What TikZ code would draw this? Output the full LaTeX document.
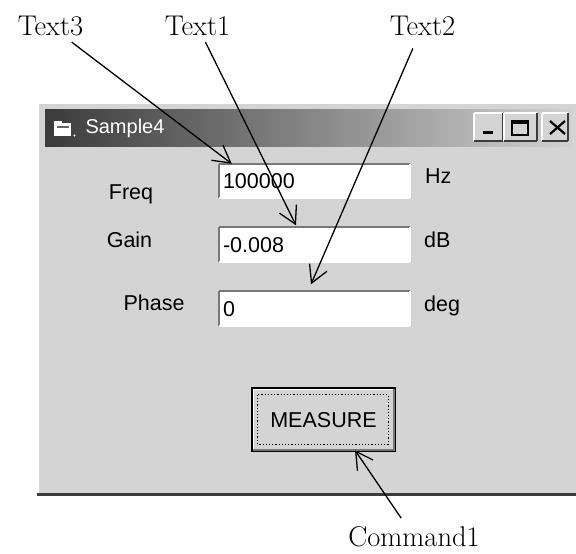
\documentclass[tikz,border=0pt]{standalone}
\usepackage{fontspec}
\usepackage{tikz}
\usetikzlibrary{arrows.meta}
\usetikzlibrary{calc}
\newfontfamily\uifont{Liberation Sans}
\definecolor{winface}{RGB}{212,212,212}
\definecolor{winshade}{RGB}{120,120,120}
\definecolor{windark}{RGB}{60,60,60}
\pgfdeclarelayer{nodelayer}
\pgfdeclarelayer{edgelayer}
\pgfsetlayers{main,nodelayer,edgelayer}
\tikzstyle{callout}=[inner sep=6pt, font=\fontsize{28.5}{34}\selectfont]
\tikzstyle{ui}=[inner sep=0pt, text height=15pt, text depth=0pt, font=\uifont\fontsize{21.5}{26}\selectfont]
\tikzset{bevel/.style 2 args={append after command={
(\tikzlastnode.south west) edge[draw=#1, line width=2pt] (\tikzlastnode.north west)
(\tikzlastnode.north west) edge[draw=#1, line width=2pt] (\tikzlastnode.north east)
(\tikzlastnode.north east) edge[draw=#2, line width=2pt] (\tikzlastnode.south east)
(\tikzlastnode.south east) edge[draw=#2, line width=2pt] (\tikzlastnode.south west) } } }
\tikzset{field/.style={ui, fill=white, text width=183pt, inner xsep=4pt, minimum height=34pt,
align=left, bevel={winshade}{white}}}
\tikzset{capbtn/.style={fill=winface, minimum height=27pt, inner sep=0pt, bevel={white}{windark}}}
\tikzset{cmdbtn/.style={ui, draw=black, line width=2.5pt, fill=winface, minimum width=143pt, minimum height=63pt}}
\tikzset{pointer/.style={-{Straight Barb[length=17pt,width=19pt]}, line width=1.3pt}}

\begin{document}
\begin{tikzpicture}[x=1pt, y=-1pt]
	\useasboundingbox (0,0) rectangle (576,554);
	\fill[winface] (37,102) rectangle (576,496);
	\draw[white, line width=2pt] (38,496) -- (38,103) -- (576,103);
	\draw[windark, line width=3pt] (37,494.5) -- (576,494.5);
	\shade[left color=black!77, right color=black!18] (45,109) rectangle (572,146);
	\fill[white] (54,123) rectangle (71,136);
	\fill[white] (54,121) rectangle (62,123);
	\draw[black!60, line width=1.5pt] (57,127) -- (69,127);
	\fill[white] (74.5,135.5) circle (1.2pt);
	\begin{pgfonlayer}{nodelayer}
		\node [style=callout] (0) at (50.5, 26) {Text3};
		\node [style=callout] (1) at (197.5, 26) {Text1};
		\node [style=callout] (2) at (422.5, 26) {Text2};
		\node [style=callout, inner sep=1pt] (3) at (414, 537) {Command1};
		\node [style=ui, text=white, font=\uifont\fontsize{20}{24}\selectfont] (4) at (125, 125.5) {Sample4};
		\node [style=capbtn, minimum width=29pt] (5) at (488.5, 127) {};
		\node [style=capbtn, minimum width=33pt] (6) at (520.5, 127) {};
		\node [style=capbtn, minimum width=26pt] (7) at (555, 127) {};
		\node [style=ui] (8) at (131, 191.5) {Freq};
		\node [style=ui] (9) at (129.5, 239.5) {Gain};
		\node [style=ui] (10) at (154, 302.5) {Phase};
		\node [style=field] (11) at (314.5, 181) {100000};
		\node [style=field] (12) at (314.5, 244.5) {-0.008};
		\node [style=field] (13) at (314.5, 308.5) {0};
		\node [style=ui, anchor=west] (14) at (425, 175.5) {Hz};
		\node [style=ui, anchor=west] (15) at (424, 239.5) {dB};
		\node [style=ui, anchor=west] (16) at (424, 303.5) {deg};
		\node [style=cmdbtn] (17) at (323.5, 419.5) {MEASURE};
		\fill (483,131) rectangle (493,134);
		\draw[line width=1.3pt] (512,121) rectangle (528,135);
		\draw[line width=3pt] (512,122) -- (528,122);
		\draw[line width=2.2pt] (550,121) -- (565,134) (565,121) -- (550,134);
		\draw[white, line width=1.5pt] ([shift={(2.5pt,2.5pt)}]17.south west) -- ([shift={(2.5pt,-2.5pt)}]17.north west) -- ([shift={(-2.5pt,-2.5pt)}]17.north east);
		\draw[winshade, line width=1.5pt] ([shift={(2.5pt,2.5pt)}]17.south west) -- ([shift={(-2.5pt,2.5pt)}]17.south east) -- ([shift={(-2.5pt,-2.5pt)}]17.north east);
		\draw[dotted, line width=1.2pt] ([shift={(7pt,-8pt)}]17.north west) rectangle ([shift={(-8pt,8pt)}]17.south east);
		\coordinate (18) at ([xshift=13pt]11.north west);
		\coordinate (19) at ([xshift=-18.5pt, yshift=2pt]12.north);
		\coordinate (20) at ([xshift=-3.5pt, yshift=7pt]13.north);
		\coordinate (21) at ([xshift=31.5pt, yshift=2pt]17.south);
	\end{pgfonlayer}
	\begin{pgfonlayer}{edgelayer}
		\draw [style=pointer] (0) to (18);
		\draw [style=pointer] (1) to (19);
		\draw [style=pointer, shorten <=7pt] (2) to (20);
		\draw [style=pointer, shorten <=9pt] (3) to (21);
	\end{pgfonlayer}
\end{tikzpicture}
\end{document}
